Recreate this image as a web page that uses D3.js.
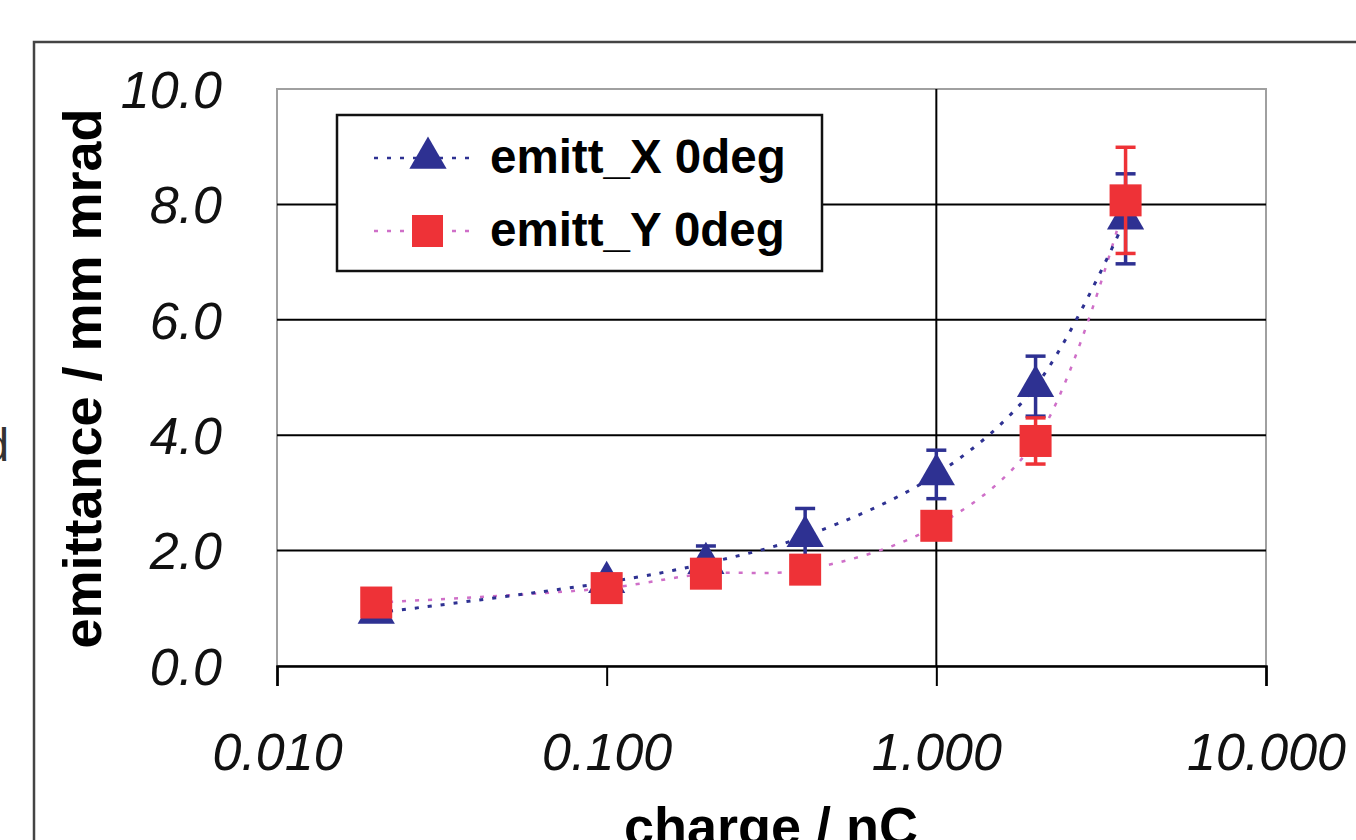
<!DOCTYPE html>
<html>
<head>
<meta charset="utf-8">
<script src="https://cdn.jsdelivr.net/npm/d3@7"></script>
<style>
  html, body { margin: 0; padding: 0; background: #fff; overflow: hidden; }
  svg { display: block; }
</style>
</head>
<body>
<svg id="chart" width="1356" height="840"></svg>
<script>
// ---- data ----
const charge = [0.02, 0.1, 0.2, 0.4, 1.0, 2.0, 3.75];
const emittX = [0.92, 1.45, 1.78, 2.25, 3.32, 4.85, 7.75];
const errX   = [0.08, 0.12, 0.3, 0.48, 0.42, 0.52, 0.78];
const emittY = [1.10, 1.35, 1.60, 1.67, 2.43, 3.90, 8.07];
const errY   = [0.05, 0.05, 0.05, 0.05, 0.1, 0.4, 0.92];
const seriesNames = ["emitt_X 0deg", "emitt_Y 0deg"];
const xTickValues = [0.01, 0.1, 1, 10];
const xTickLabels = ["0.010", "0.100", "1.000", "10.000"];
const yTickValues = [0, 2, 4, 6, 8, 10];
const yTickLabels = ["0.0", "2.0", "4.0", "6.0", "8.0", "10.0"];

const svg = d3.select("#chart");
const L = 277, R = 1266, T = 89, B = 666;
const x = d3.scaleLog().domain([0.01, 10]).range([L, R]);
const y = d3.scaleLinear().domain([0, 10]).range([B, T]);

const blue = "#2e3192", red = "#ee3237", pink = "#cf6fc8";
const font = "Liberation Sans, Arial, sans-serif";

// outer chart border
svg.append("path").attr("d", "M34,845 L34,42 L1360,42")
  .attr("fill", "none").attr("stroke", "#444").attr("stroke-width", 2.5);

// clipped text at left edge (partially outside the frame, as in the reference)
svg.append("text").attr("x", 9).attr("y", 461).attr("text-anchor", "end")
  .attr("font-family", font).attr("font-size", 46)
  .attr("fill", "#333").text("d");

// plot area border
svg.append("rect").attr("x", L).attr("y", T).attr("width", R - L).attr("height", B - T)
  .attr("fill", "none").attr("stroke", "#a0a0a0").attr("stroke-width", 2);

// horizontal gridlines
svg.append("g").selectAll("line").data(yTickValues.filter(v => v > 0 && v < 10)).join("line")
  .attr("x1", L).attr("x2", R).attr("y1", d => y(d)).attr("y2", d => y(d))
  .attr("stroke", "#000").attr("stroke-width", 2);

// vertical line at 1.0 (value axis crossing)
svg.append("line").attr("x1", x(1)).attr("x2", x(1)).attr("y1", T).attr("y2", B)
  .attr("stroke", "#000").attr("stroke-width", 2);

// x axis
const xAxis = d3.axisBottom(x).tickValues(xTickValues).tickSize(20)
  .tickFormat((d, i) => xTickLabels[i]);
const gx = svg.append("g").attr("transform", `translate(0,${B})`).call(xAxis);
gx.select(".domain").attr("stroke", "#000").attr("stroke-width", 2.5);
gx.selectAll(".tick line").attr("stroke", "#000").attr("stroke-width", 2);
gx.selectAll(".tick text").attr("font-family", font)
  .attr("font-size", 52).attr("font-style", "italic").attr("fill", "#111")
  .attr("dy", 0).attr("y", 104);

// y axis labels
const yAxis = d3.axisLeft(y).tickValues(yTickValues).tickSize(0)
  .tickFormat((d, i) => yTickLabels[i]);
const gy = svg.append("g").attr("transform", `translate(${L},0)`).call(yAxis);
gy.select(".domain").remove();
gy.selectAll(".tick text").attr("font-family", font)
  .attr("font-size", 52).attr("font-style", "italic").attr("fill", "#111")
  .attr("x", -55).attr("dy", "0.35em");

// axis titles
svg.append("text").attr("transform", `translate(101,${(T + B) / 2 + 1}) rotate(-90)`)
  .attr("text-anchor", "middle").attr("font-family", font)
  .attr("font-size", 54).attr("font-weight", "bold").attr("fill", "#000")
  .text("emittance / mm mrad");
svg.append("text").attr("x", 771).attr("y", 845).attr("text-anchor", "middle")
  .attr("font-family", font)
  .attr("font-size", 54).attr("font-weight", "bold").attr("fill", "#000")
  .text("charge / nC");

// lines
const line = d3.line().curve(d3.curveCatmullRom.alpha(0.5));
const ptsX = charge.map((c, i) => [x(c), y(emittX[i])]);
const ptsY = charge.map((c, i) => [x(c), y(emittY[i])]);
svg.append("path").attr("d", line(ptsY)).attr("fill", "none")
  .attr("stroke", pink).attr("stroke-width", 2.5).attr("stroke-dasharray", "4,9");
svg.append("path").attr("d", line(ptsX)).attr("fill", "none")
  .attr("stroke", blue).attr("stroke-width", 3).attr("stroke-dasharray", "4,9");

// error bars
function errBars(vals, errs, color) {
  const g = svg.append("g").attr("stroke", color).attr("stroke-width", 3.5);
  charge.forEach((c, i) => {
    const cx = x(c), y1 = y(vals[i] + errs[i]), y2 = y(vals[i] - errs[i]);
    g.append("line").attr("x1", cx).attr("x2", cx).attr("y1", y1).attr("y2", y2);
    g.append("line").attr("x1", cx - 10).attr("x2", cx + 10).attr("y1", y1).attr("y2", y1);
    g.append("line").attr("x1", cx - 10).attr("x2", cx + 10).attr("y1", y2).attr("y2", y2);
  });
}
errBars(emittX, errX, blue);

const tri = d3.symbol().type(d3.symbolTriangle).size(600);
svg.append("g").selectAll("path").data(ptsX).join("path")
  .attr("d", tri).attr("transform", d => `translate(${d[0]},${d[1]})`).attr("fill", blue);

errBars(emittY, errY, red);
svg.append("g").selectAll("rect").data(ptsY).join("rect")
  .attr("x", d => d[0] - 16).attr("y", d => d[1] - 16).attr("width", 32).attr("height", 32)
  .attr("fill", red);

// legend
const lg = svg.append("g");
lg.append("rect").attr("x", 337).attr("y", 115).attr("width", 485).attr("height", 156)
  .attr("fill", "#fff").attr("stroke", "#111").attr("stroke-width", 2.5);
const legendRows = [
  { name: seriesNames[0], color: blue, lineColor: blue, cy: 158, shape: "tri" },
  { name: seriesNames[1], color: red, lineColor: pink, cy: 231, shape: "sq" }
];
legendRows.forEach(r => {
  lg.append("line").attr("x1", 374).attr("x2", 476).attr("y1", r.cy).attr("y2", r.cy)
    .attr("stroke", r.lineColor).attr("stroke-width", 2.5).attr("stroke-dasharray", "4,9");
  if (r.shape === "tri") {
    lg.append("path").attr("d", tri).attr("transform", `translate(428,${r.cy})`).attr("fill", r.color);
  } else {
    lg.append("rect").attr("x", 412).attr("y", r.cy - 16).attr("width", 31).attr("height", 32).attr("fill", r.color);
  }
  lg.append("text").attr("x", 490).attr("y", r.cy + 15)
    .attr("font-family", font).attr("font-size", 47.5)
    .attr("font-weight", "bold").attr("fill", "#000").text(r.name);
});
</script>
</body>
</html>
